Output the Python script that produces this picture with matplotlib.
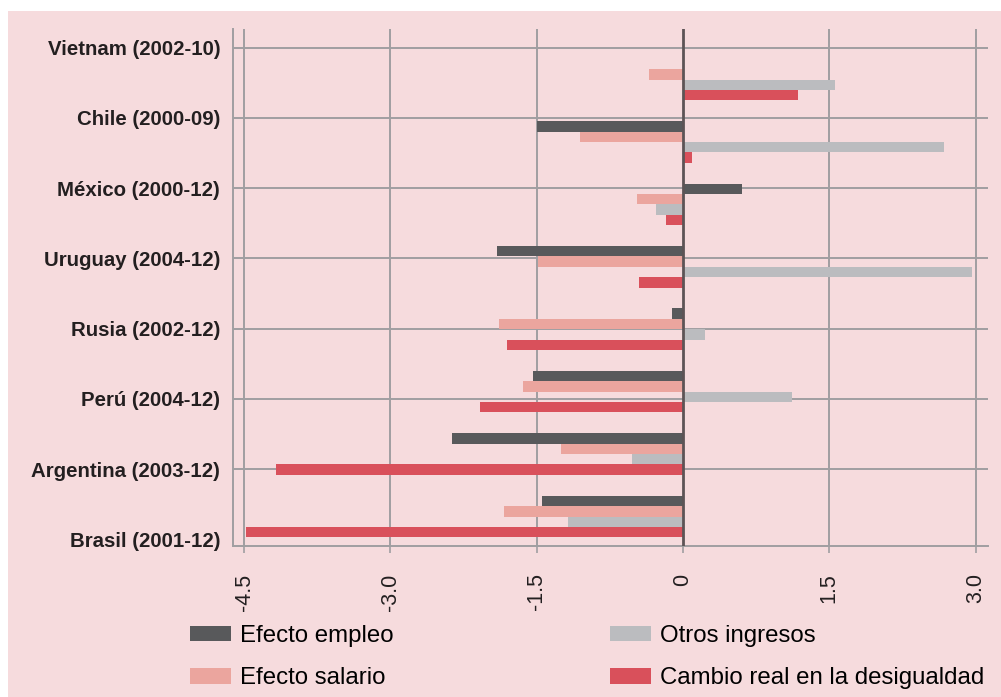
import matplotlib
matplotlib.use("Agg")
import matplotlib.pyplot as plt
import numpy as np
from matplotlib.patches import Rectangle, Patch

# ---- data ----
categories = ["Vietnam (2002-10)", "Chile (2000-09)", "México (2000-12)", "Uruguay (2004-12)",
              "Rusia (2002-12)", "Perú (2004-12)", "Argentina (2003-12)", "Brasil (2001-12)"]
series_names = ["Efecto empleo", "Efecto salario", "Otros ingresos", "Cambio real en la desigualdad"]
efecto_empleo = [0.0, -1.50, 0.61, -1.91, -0.11, -1.54, -2.37, -1.44]
efecto_salario = [-0.35, -1.05, -0.47, -1.49, -1.89, -1.64, -1.25, -1.83]
otros_ingresos = [1.56, 2.68, -0.28, 2.96, 0.23, 1.12, -0.52, -1.18]
cambio_real = [1.18, 0.09, -0.17, -0.45, -1.80, -2.08, -4.17, -4.48]
x_ticks = [-4.5, -3.0, -1.5, 0.0, 1.5, 3.0]
x_tick_labels = ["-4.5", "-3.0", "-1.5", "0", "1.5", "3.0"]

colors = ["#58595b", "#eba59e", "#bbbcbf", "#d9505b"]
bg = "#f6dbdd"
grid_c = "#a09ea1"

plt.rcParams['font.family'] = ['Liberation Sans', 'DejaVu Sans']

fig = plt.figure(figsize=(10.01, 6.97), dpi=100)
fig.patch.set_facecolor("white")
W, H = 1001, 697
fig.add_artist(Rectangle((8 / W, 0), 1 - 8 / W, 1 - 11 / H, transform=fig.transFigure,
                         facecolor=bg, edgecolor="none", zorder=-10))

left_px, right_px, top_px, bot_px = 232.7, 987.7, 29, 545.7
ax = fig.add_axes([left_px / W, 1 - bot_px / H, (right_px - left_px) / W, (bot_px - top_px) / H])
ax.set_facecolor("none")

n = len(categories)
y = np.arange(n)
bar_h = 0.166
offsets = (np.arange(4) - 1.5) * bar_h
all_series = [efecto_empleo, efecto_salario, otros_ingresos, cambio_real]
for s, vals, c, off in zip(series_names, all_series, colors, offsets):
    ax.barh(y + off, vals, height=bar_h, color=c, label=s, zorder=3, linewidth=0)

# axis limits (group spacing 62.43 px, first group centre at 79.5 px)
gs, g0 = 62.43, 79.5
ax.set_ylim((bot_px - g0) / gs, (top_px - g0) / gs)
x_px_per_unit = (975.5 - 244) / 7.5
x0 = 244 + 4.5 * x_px_per_unit
ax.set_xlim((left_px - x0) / x_px_per_unit, (right_px - x0) / x_px_per_unit)

# category label positions (evenly spaced, offset from bar groups as in original)
tick_pos = [((47.5 + 70.3 * k) - g0) / gs for k in range(n)]
ax.set_yticks(tick_pos)
ax.set_yticklabels(categories, fontsize=14.7, fontweight="bold", color="#231f20")
ax.tick_params(axis="y", length=0, pad=9)
for tp in tick_pos[:-1]:
    ax.axhline(tp, color=grid_c, lw=1.4, zorder=1)

ax.set_xticks(x_ticks)
ax.set_xticklabels(x_tick_labels, rotation=90, fontsize=15.5, color="#231f20")
ax.tick_params(axis="x", length=5, width=1.2, color=grid_c, pad=15)
for xt in x_ticks:
    if xt == 0:
        ax.axvline(xt, color="#5d5456", lw=2, zorder=4)
    else:
        ax.axvline(xt, color=grid_c, lw=1.4, zorder=1)

for sp in ["top", "right"]:
    ax.spines[sp].set_visible(False)
for sp in ["left", "bottom"]:
    ax.spines[sp].set_color(grid_c)
    ax.spines[sp].set_linewidth(1.4)

handles = [Patch(facecolor=c, edgecolor="none") for c in colors]
fig.legend(handles, series_names, loc="upper left", bbox_to_anchor=(190 / W, 1 - 625 / H),
           ncol=2, frameon=False, fontsize=17.3, handlelength=1.71, handleheight=0.6,
           handletextpad=0.375, labelspacing=0.85, columnspacing=9.0, borderpad=0,
           borderaxespad=0)

fig.savefig("out.png", dpi=100, facecolor=fig.get_facecolor())
